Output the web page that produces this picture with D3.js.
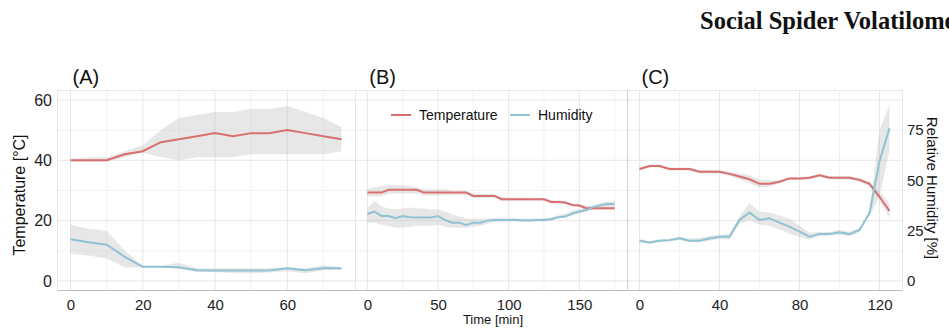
<!DOCTYPE html>
<html>
<head>
<meta charset="utf-8">
<script src="https://cdn.jsdelivr.net/npm/d3@7"></script>
<style>
  body { margin: 0; background: #fff; overflow: hidden; }
  text { font-family: "Liberation Sans", Arial, sans-serif; }
</style>
</head>
<body>
<div id="chart"></div>
<script>
// ---- data (temperature in °C, humidity in %) ----
const timeA = [0, 5, 10, 15, 20, 25, 30, 35, 40, 45, 50, 55, 60, 65, 70, 75];
const tempA = [40, 40, 40, 42, 43, 46, 47, 48, 49, 48, 49, 49, 50, 49, 48, 47];
const tempA_hi = [40.5, 41, 41, 43, 45, 50, 54, 55, 56, 56, 57, 57, 58, 56, 54, 51];
const tempA_lo = [39.5, 39.5, 39.5, 41, 42.5, 41, 40, 41, 41, 41, 42, 42, 42, 42, 42, 43];
const humA = [20.7, 19.2, 18, 12, 7, 7, 6.8, 5.3, 5.2, 5.2, 5.2, 5.2, 6.3, 5.3, 6.3, 6.3];
const humA_hi = [28, 26, 25, 15, 7.5, 7.5, 9, 6.3, 6.3, 6.3, 6.3, 6.3, 6.8, 6.3, 7.8, 6.8];
const humA_lo = [13.5, 12.7, 11.2, 6.7, 6.7, 6.7, 6, 4.5, 4.5, 3.8, 3.8, 4.2, 4.8, 3.8, 5.3, 5.5];

const timeB = [0, 5, 10, 15, 20, 25, 30, 35, 40, 45, 50, 55, 60, 65, 70, 75, 80, 85,
  90, 95, 100, 105, 110, 115, 120, 125, 130, 135, 140, 145, 150, 155, 160, 165, 170, 175];
const tempB = [29.3, 29.3, 29.3, 30.2, 30.2, 30.2, 30.2, 30.2, 29.3, 29.3, 29.3, 29.3, 29.3, 29.3, 29.3, 28.2, 28.2, 28.2,
  28.2, 27.1, 27.1, 27.1, 27.1, 27.1, 27.1, 27.1, 26.2, 26.2, 26.0, 25.2, 25.0, 24.1, 24.1, 24.1, 24.1, 24.1];
const tempB_hi = [30.5, 31, 31.5, 31.7, 31.7, 31.7, 31.5, 31, 30.5, 30.3, 30.5, 30.5, 30, 29.8, 29.8, 29, 28.8, 28.8,
  28.8, 27.8, 27.7, 27.7, 27.6, 27.6, 27.5, 27.5, 26.8, 26.7, 26.5, 25.7, 25.5, 25, 24.8, 24.8, 24.7, 24.7];
const tempB_lo = [28, 28, 28.2, 28.8, 29, 29, 29, 29, 28.3, 28.3, 28.3, 28.4, 28.5, 28.5, 28.6, 27.5, 27.6, 27.6,
  27.6, 26.5, 26.5, 26.6, 26.6, 26.6, 26.6, 26.6, 25.7, 25.7, 25.5, 24.7, 24.5, 23.5, 23.5, 23.5, 23.5, 23.5];
const humB = [33.3, 34.5, 32.3, 32.3, 31.2, 32.3, 31.7, 31.5, 31.5, 31.5, 32.3, 30.3, 29.0, 29.0, 27.9, 29.0, 29.0, 30.0,
  30.3, 30.3, 30.3, 30.3, 30.0, 30.0, 30.3, 30.3, 30.7, 31.7, 32.0, 33.5, 34.5, 35.3, 36.7, 37.7, 38.3, 38.3];
const humB_hi = [36, 40, 37, 36, 35.5, 36, 36.5, 36, 36, 35.5, 35.5, 34.5, 33, 32, 31, 31, 31, 31,
  31.2, 31.2, 31.2, 31.2, 31, 31, 31.2, 31.2, 31.5, 32.5, 33.5, 35, 35.5, 36.5, 37.8, 38.8, 39.5, 39.5];
const humB_lo = [29, 29, 28, 27.5, 26.5, 26.5, 27, 27.5, 27.5, 27.5, 28, 27, 26.5, 26.5, 26.5, 27, 27.5, 28.5,
  29.3, 29.5, 29.5, 29.5, 29.5, 29.5, 29.5, 29.5, 30, 31, 31.5, 32.5, 33.5, 34.5, 35.5, 36.5, 37, 37];

const timeC = [0, 5, 10, 15, 20, 25, 30, 35, 40, 45, 50, 55, 60, 65, 70, 75, 80, 85,
  90, 95, 100, 105, 110, 115, 120, 125];
const tempC = [37.1, 38.1, 38.1, 37.1, 37.1, 37.1, 36.2, 36.2, 36.2, 35.5, 34.6, 33.7, 32.2, 32.2, 32.9, 34.0, 34.0, 34.2,
  35.0, 34.2, 34.2, 34.2, 33.5, 32.2, 27.9, 23.2];
const tempC_hi = [37.6, 38.6, 38.6, 37.6, 37.6, 37.6, 36.8, 36.8, 36.8, 36.3, 35.6, 35.0, 33.6, 33.4, 33.5, 34.5, 34.5, 34.7,
  35.5, 34.8, 34.8, 34.8, 34.2, 33, 29.5, 25.8];
const tempC_lo = [36.6, 37.6, 37.6, 36.6, 36.6, 36.6, 35.6, 35.6, 35.6, 34.8, 33.6, 32.4, 31, 31.2, 32.3, 33.5, 33.5, 33.7,
  34.5, 33.6, 33.6, 33.6, 32.8, 31.4, 26.5, 20.8];
const humC = [20.0, 19.1, 20.0, 20.3, 21.2, 20.0, 20.0, 21.1, 22.0, 22.0, 30.3, 34.0, 30.3, 31.2, 29.0, 27.0, 24.5, 22.0,
  23.4, 23.4, 24.2, 23.3, 25.4, 33.7, 59.5, 76.0];
const humC_hi = [20.8, 19.8, 20.7, 21, 22, 21, 21.5, 22.5, 23, 23.5, 32, 38.6, 34.5, 34, 32.5, 31, 27.5, 24,
  24.5, 24.3, 25.5, 24.5, 26.5, 35, 75, 87.6];
const humC_lo = [19.2, 18.4, 19.3, 19.6, 20.4, 19.3, 19.3, 20, 20.8, 20.5, 28.5, 30.3, 27.9, 27.5, 25.5, 23.5, 22, 20.5,
  22.3, 22.5, 23, 22.2, 24.3, 32.3, 42, 65];

const tempTicks = [0, 20, 40, 60];
const tempMinor = [10, 30, 50];
const humTicks = [0, 25, 50, 75];

const panels = [
  { label: "(A)", time: timeA, temp: tempA, tempHi: tempA_hi, tempLo: tempA_lo, hum: humA, humHi: humA_hi, humLo: humA_lo,
    domain: [-3.75, 78.75], range: [57, 355], ticks: [0, 20, 40, 60], minor: [10, 30, 50, 70] },
  { label: "(B)", time: timeB, temp: tempB, tempHi: tempB_hi, tempLo: tempB_lo, hum: humB, humHi: humB_hi, humLo: humB_lo,
    domain: [-8.75, 183.75], range: [355, 627], ticks: [0, 50, 100, 150], minor: [25, 75, 125, 175] },
  { label: "(C)", time: timeC, temp: tempC, tempHi: tempC_hi, tempLo: tempC_lo, hum: humC, humHi: humC_hi, humLo: humC_lo,
    domain: [-6.25, 131.25], range: [627, 902], ticks: [0, 40, 80, 120], minor: [20, 60, 100] }
];

const W = 949, H = 334;
const plotTop = 90, plotBottom = 290;
const red = "#d9706f", blue = "#8fc3d3";

const svg = d3.select("#chart").append("svg")
  .attr("width", W)
  .attr("height", H);

// shared y scales (humidity axis is temperature * 1.5)
const yT = d3.scaleLinear([-3, 63.3], [plotBottom, plotTop]);
const yH = d3.scaleLinear([-3 * 1.5, 63.3 * 1.5], [plotBottom, plotTop]);

// title (clipped at the right edge like the original)
svg.append("text")
  .attr("x", 700)
  .attr("y", 29)
  .style("font-family", "'Liberation Serif', 'Times New Roman', serif")
  .style("font-weight", "bold")
  .style("font-size", "24.5px")
  .style("fill", "#111")
  .text("Social Spider Volatilome");

panels.forEach((p, pi) => {
  const x = d3.scaleLinear(p.domain, p.range);
  const g = svg.append("g");

  // minor gridlines
  g.selectAll(".ymin").data(tempMinor).enter().append("line")
    .attr("x1", p.range[0]).attr("x2", p.range[1])
    .attr("y1", d => yT(d)).attr("y2", d => yT(d))
    .attr("stroke", "#f2f2f2").attr("stroke-width", 1);
  g.selectAll(".xmin").data(p.minor).enter().append("line")
    .attr("x1", d => x(d)).attr("x2", d => x(d))
    .attr("y1", plotTop).attr("y2", plotBottom)
    .attr("stroke", "#f2f2f2").attr("stroke-width", 1);
  // major gridlines
  g.selectAll(".ymaj").data(tempTicks).enter().append("line")
    .attr("x1", p.range[0]).attr("x2", p.range[1])
    .attr("y1", d => yT(d)).attr("y2", d => yT(d))
    .attr("stroke", "#e6e6e6").attr("stroke-width", 1);
  g.selectAll(".xmaj").data(p.ticks).enter().append("line")
    .attr("x1", d => x(d)).attr("x2", d => x(d))
    .attr("y1", plotTop).attr("y2", plotBottom)
    .attr("stroke", "#e6e6e6").attr("stroke-width", 1);

  // panel border
  g.append("rect")
    .attr("x", p.range[0] + 0.5).attr("y", plotTop + 0.5)
    .attr("width", p.range[1] - p.range[0]).attr("height", plotBottom - plotTop)
    .attr("fill", "none")
    .attr("stroke", "#e6e6e6");

  const rows = p.time.map((t, i) => ({
    t: t, temp: p.temp[i], tHi: p.tempHi[i], tLo: p.tempLo[i],
    hum: p.hum[i], hHi: p.humHi[i], hLo: p.humLo[i]
  }));

  // ribbons
  g.append("path").datum(rows)
    .attr("fill", "#c4c4c4").attr("fill-opacity", 0.4)
    .attr("d", d3.area().x(d => x(d.t)).y0(d => yT(d.tLo)).y1(d => yT(d.tHi)));
  g.append("path").datum(rows)
    .attr("fill", "#c4c4c4").attr("fill-opacity", 0.4)
    .attr("d", d3.area().x(d => x(d.t)).y0(d => yH(d.hLo)).y1(d => yH(d.hHi)));

  // lines
  g.append("path").datum(rows)
    .attr("fill", "none").attr("stroke", red).attr("stroke-width", 2)
    .attr("d", d3.line().x(d => x(d.t)).y(d => yT(d.temp)));
  g.append("path").datum(rows)
    .attr("fill", "none").attr("stroke", blue).attr("stroke-width", 2)
    .attr("d", d3.line().x(d => x(d.t)).y(d => yH(d.hum)));

  // x axis
  const xAxis = g.append("g")
    .attr("transform", `translate(0,${plotBottom})`)
    .call(d3.axisBottom(x).tickValues(p.ticks).tickSize(0).tickPadding(9));
  xAxis.select(".domain").attr("stroke", "#bdbdbd");
  xAxis.selectAll("text")
    .style("font-size", "15px")
    .style("font-family", "'Liberation Sans', Arial, sans-serif")
    .style("fill", "#222");

  // panel label
  svg.append("text")
    .attr("x", x(0) + 2)
    .attr("y", 84)
    .style("font-size", "20px")
    .style("fill", "#111")
    .text(p.label);
});

// slightly darker divider between panels B and C
svg.append("line")
  .attr("x1", 627.5).attr("x2", 627.5)
  .attr("y1", plotTop).attr("y2", plotBottom)
  .attr("stroke", "#d0d0d0");

// left axis (temperature)
const yAxisL = svg.append("g")
  .attr("transform", `translate(57,0)`)
  .call(d3.axisLeft(yT).tickValues(tempTicks).tickSize(0).tickPadding(5));
yAxisL.select(".domain").remove();
yAxisL.selectAll("text")
  .style("font-size", "16px")
  .style("font-family", "'Liberation Sans', Arial, sans-serif")
  .style("fill", "#222");

// right axis (humidity)
const yAxisR = svg.append("g")
  .attr("transform", `translate(902,0)`)
  .call(d3.axisRight(yH).tickValues(humTicks).tickSize(0).tickPadding(5));
yAxisR.select(".domain").remove();
yAxisR.selectAll("text")
  .style("font-size", "15px")
  .style("font-family", "'Liberation Sans', Arial, sans-serif")
  .style("fill", "#222");

// axis titles
svg.append("text")
  .attr("transform", "translate(25,195) rotate(-90)")
  .attr("text-anchor", "middle")
  .style("font-size", "16px")
  .style("fill", "#111")
  .text("Temperature [°C]");

svg.append("text")
  .attr("transform", "translate(927,188) rotate(90)")
  .attr("text-anchor", "middle")
  .style("font-size", "15px")
  .style("fill", "#111")
  .text("Relative Humidity [%]");

svg.append("text")
  .attr("x", 493)
  .attr("y", 324)
  .attr("text-anchor", "middle")
  .style("font-size", "13px")
  .style("fill", "#111")
  .text("Time [min]");

// legend
const legendItems = [
  { name: "Temperature", color: red, x: 391 },
  { name: "Humidity", color: blue, x: 510 }
];
const legend = svg.append("g");
legend.selectAll("line").data(legendItems).enter().append("line")
  .attr("x1", d => d.x).attr("x2", d => d.x + 20)
  .attr("y1", 115).attr("y2", 115)
  .attr("stroke", d => d.color).attr("stroke-width", 2);
legend.selectAll("text").data(legendItems).enter().append("text")
  .attr("x", d => d.x + 28)
  .attr("y", 120)
  .style("font-size", "14px")
  .style("fill", "#111")
  .text(d => d.name);
</script>
</body>
</html>
